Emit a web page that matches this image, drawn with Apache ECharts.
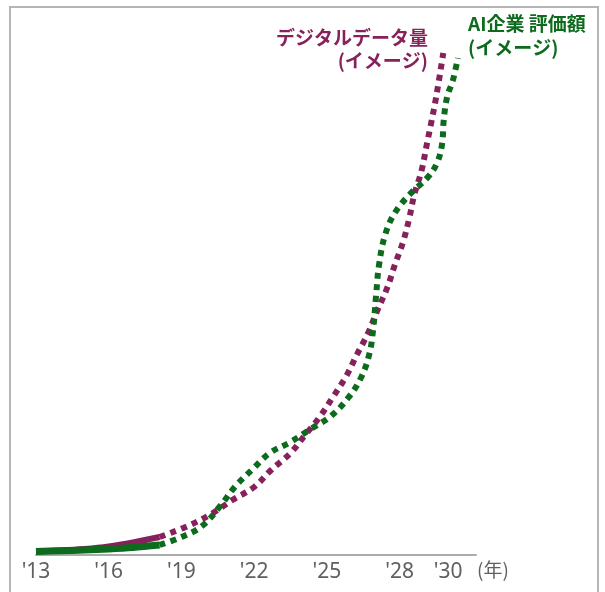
<!DOCTYPE html>
<html>
<head>
<meta charset="utf-8">
<script src="https://cdn.jsdelivr.net/npm/echarts@6/dist/echarts.min.js"></script>
<style>
  html, body { margin: 0; padding: 0; background: #fff; }
  #chart { width: 605px; height: 592px; }
</style>
</head>
<body>
<div id="chart"></div>
<script>
// Year ticks shown under the axis
const tickYears = [2013, 2016, 2019, 2022, 2025, 2028, 2030];

// デジタルデータ量: measured part (solid) and outlook (dotted)
const dataSolidYears  = [2013, 2014, 2015, 2016, 2017, 2018.1];
const dataSolidValues = [0.7, 0.9, 1.2, 1.7, 2.5, 3.6];
const dataOutlookYears  = [2018.1, 2019.35, 2020.3, 2021.1, 2022.0, 2022.7, 2023.5, 2024.1, 2024.7, 2025.25,
                           2025.8, 2026.25, 2026.7, 2027.07, 2027.5, 2027.8, 2028.14, 2028.4, 2028.6, 2028.9,
                           2029.1, 2029.3, 2029.5, 2029.8];
const dataOutlookValues = [3.6, 6.0, 8.4, 11, 13.6, 17, 20.4, 24, 27.6, 31.6,
                           35.8, 40.2, 44.4, 48.8, 53.6, 58, 62.6, 67.4, 72, 76.8,
                           81.6, 86.4, 91.4, 100.4];

// AI企業 評価額: measured part (solid) and outlook (dotted)
const aiSolidYears  = [2013, 2014, 2015, 2016, 2017, 2018.1];
const aiSolidValues = [0.7, 0.85, 1.0, 1.2, 1.5, 2.0];
const aiOutlookYears  = [2018.1, 2019.0, 2019.85, 2020.6, 2021.2, 2021.9, 2022.65, 2023.5, 2024.4, 2025.17,
                         2025.87, 2026.4, 2026.74, 2026.9, 2027.03, 2027.15, 2027.4, 2027.8, 2028.43, 2029.17,
                         2029.55, 2029.75, 2029.82, 2029.96, 2030.2, 2030.4];
const aiOutlookValues = [2.0, 3.6, 5.8, 9.8, 13.6, 17, 20.4, 22.6, 25.4, 27.8,
                         31.4, 35.4, 40, 44.8, 52, 58, 64, 68.4, 72.2, 75.6,
                         78.5, 82.2, 87, 91.6, 95, 99.4];

const PURPLE = '#86215c';
const GREEN = '#0c6b1c';

const pairs = (xs, ys) => xs.map((x, i) => [x, ys[i]]);

const chart = echarts.init(document.getElementById('chart'), null, { renderer: 'canvas' });

const solidLine = (name, color, width, xs, ys, z) => ({
  name, type: 'line', data: pairs(xs, ys), showSymbol: false, symbol: 'none',
  smooth: 0.3, clip: false, z, silent: true,
  lineStyle: { color, width, type: 'solid', cap: 'butt', join: 'round' }
});
const dottedLine = (name, color, xs, ys, z) => ({
  name, type: 'line', data: pairs(xs, ys), showSymbol: false, symbol: 'none',
  smooth: 0.4, clip: false, z, silent: true,
  lineStyle: { color, width: 6, type: [6, 5.5], cap: 'butt', join: 'miter' }
});

chart.setOption({
  animation: false,
  backgroundColor: '#fff',
  grid: { left: 36, right: 129, top: 5, bottom: 37, containLabel: false, outerBoundsMode: 'none' },
  xAxis: {
    type: 'value', min: 2013, max: 2031.15,
    axisLine: { show: true, lineStyle: { color: '#ababab', width: 2 } },
    axisTick: { show: false },
    splitLine: { show: false },
    axisLabel: {
      customValues: tickYears,
      formatter: v => "'" + String(v).slice(2),
      color: '#606060', fontSize: 21, fontFamily: 'Noto Sans', margin: 7,
      showMinLabel: true, showMaxLabel: true
    }
  },
  yAxis: {
    type: 'value', min: 0, max: 110, show: false,
    splitLine: { show: false }
  },
  series: [
    solidLine('デジタルデータ量', PURPLE, 6, dataSolidYears, dataSolidValues, 2),
    dottedLine('デジタルデータ量 見通し', PURPLE, dataOutlookYears, dataOutlookValues, 2),
    solidLine('AI企業 評価額', GREEN, 7, aiSolidYears, aiSolidValues, 3),
    dottedLine('AI企業 評価額 見通し', GREEN, aiOutlookYears, aiOutlookValues, 3)
  ],
  graphic: [
    {
      type: 'rect', silent: true, z: 0,
      shape: { x: 10, y: 7, width: 588, height: 600 },
      style: { fill: 'none', stroke: '#b5b5b5', lineWidth: 2 }
    },
    {
      type: 'text', silent: true,
      style: { x: 477, y: 560, text: '(年)', fill: '#606060', font: '19px "Noto Sans CJK JP"' }
    },
    {
      type: 'text', silent: true,
      style: {
        x: 428, y: 28, text: 'デジタルデータ量', fill: PURPLE, align: 'right',
        font: 'bold 19px "Noto Sans CJK JP"'
      }
    },
    {
      type: 'text', silent: true,
      style: {
        x: 428, y: 51, text: '(イメージ)', fill: PURPLE, align: 'right',
        font: 'bold 19px "Noto Sans CJK JP"'
      }
    },
    {
      type: 'text', silent: true,
      style: {
        x: 468, y: 14, text: 'AI企業 評価額', fill: GREEN,
        font: 'bold 19px "Noto Sans CJK JP"'
      }
    },
    {
      type: 'text', silent: true,
      style: {
        x: 468, y: 38, text: '(イメージ)', fill: GREEN,
        font: 'bold 19px "Noto Sans CJK JP"'
      }
    }
  ]
});
</script>
</body>
</html>
